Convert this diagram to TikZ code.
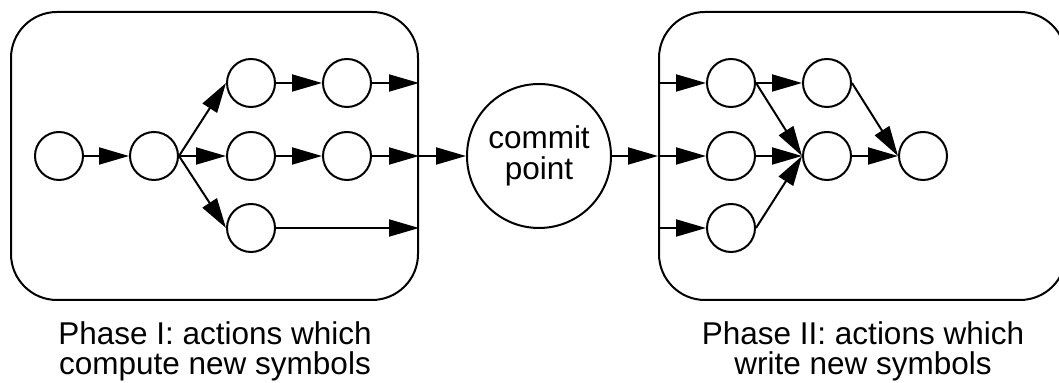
\documentclass[tikz,border=0pt]{standalone}
\usepackage{fontspec}
\setmainfont{Liberation Sans}
\usetikzlibrary{arrows.meta}
\begin{document}
\begin{tikzpicture}[x=0.5pt,y=-0.5pt,
    line width=1pt,
    dot/.style={draw,circle,minimum size=24pt,inner sep=0pt},
    commitdot/.style={draw,circle,minimum size=72pt,inner sep=0pt,align=center,
      font=\fontsize{15.75pt}{15.5pt}\selectfont},
    phasebox/.style={draw,rounded corners=23pt,minimum width=203.5pt,minimum height=144pt,inner sep=0pt},
    caption/.style={align=center,inner sep=0pt,anchor=north,
      font=\fontsize{15.75pt}{15pt}\selectfont},
    arr/.style={-{Triangle[length=15pt,width=8.5pt]}}]
    \useasboundingbox (0,0) rectangle (1059,383);
    \clip (0,0) rectangle (1059,383);
    % phase boxes
    \node[phasebox] (ph1) at (214.5,156) {};
    \node[phasebox] (ph2) at (862.5,156) {};
    \node[commitdot] (commit) at (539,156) {commit\\point};
    % phase I actions
    \node[dot] (p1) at (59,156) {};  \node[dot] (p2) at (154,156) {};
    \node[dot] (q1) at (251,83) {};  \node[dot] (r1) at (347,83) {};
    \node[dot] (q2) at (251,156) {}; \node[dot] (r2) at (347,156) {};
    \node[dot] (q3) at (251,228) {};
    % phase II actions
    \node[dot] (a1) at (731,83) {};  \node[dot] (b1) at (827,83) {};
    \node[dot] (a2) at (731,156) {}; \node[dot] (b2) at (827,156) {};
    \node[dot] (a3) at (731,228) {}; \node[dot] (c1) at (923,156) {};
    % connectors, phase I
    \draw[arr] (p1)--(p2);
    \draw[arr] (p2.east)--(q1.west); \draw[arr] (p2)--(q2); \draw[arr] (p2.east)--(q3.west);
    \draw[arr] (q1)--(r1); \draw[arr] (r1)--(r1 -| ph1.east);
    \draw[arr] (q2)--(r2); \draw[arr] (r2)--(ph1.east);
    \draw[arr] (q3)--(q3 -| ph1.east);
    % commit point
    \draw[arr] (ph1.east)--(commit); \draw[arr] (commit)--(ph2.west);
    % connectors, phase II
    \draw[arr] (a1 -| ph2.west)--(a1); \draw[arr] (ph2.west)--(a2); \draw[arr] (a3 -| ph2.west)--(a3);
    \draw[arr] (a1)--(b1); \draw[arr] (a1.east)--(b2.west);
    \draw[arr] (a2)--(b2); \draw[arr] (a3.east)--(b2.west);
    \draw[arr] (b1.east)--(c1.west); \draw[arr] (b2)--(c1);
    % captions
    \node[caption] (cap1) at (215,321) {Phase I: actions which\\compute new symbols};
    \node[caption] (cap2) at (863,321) {Phase II: actions which\\write new symbols};
\end{tikzpicture}
\end{document}
